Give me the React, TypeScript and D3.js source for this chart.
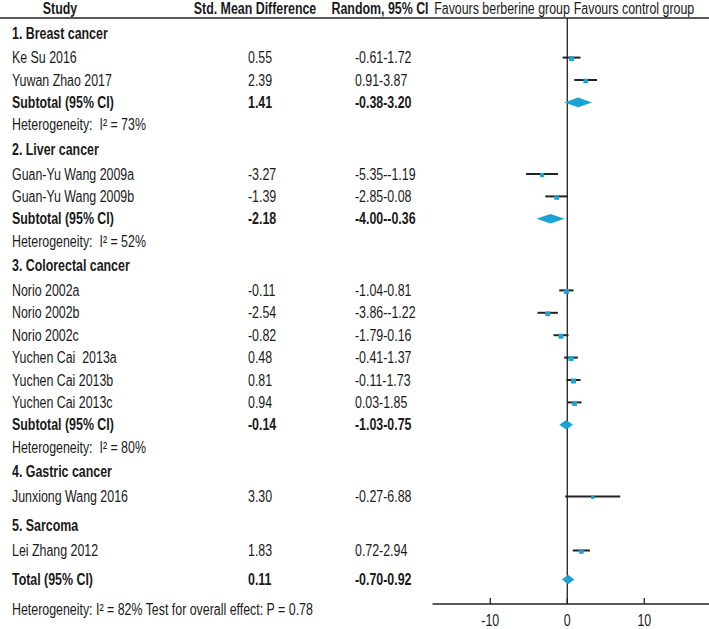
import React from "react";
import * as d3 from "d3";

// ---------- data ----------
const groupNames = ["1. Breast cancer", "2. Liver cancer", "3. Colorectal cancer", "4. Gastric cancer", "5. Sarcoma"];
const studyNames = [
  "Ke Su 2016", "Yuwan Zhao 2017",
  "Guan-Yu Wang 2009a", "Guan-Yu Wang 2009b",
  "Norio 2002a", "Norio 2002b", "Norio 2002c", "Yuchen Cai  2013a", "Yuchen Cai 2013b", "Yuchen Cai 2013c",
  "Junxiong Wang 2016",
  "Lei Zhang 2012",
];
const studyGroup = [0, 0, 1, 1, 2, 2, 2, 2, 2, 2, 3, 4];
const studySMD = [0.55, 2.39, -3.27, -1.39, -0.11, -2.54, -0.82, 0.48, 0.81, 0.94, 3.30, 1.83];
const studyLow = [-0.61, 0.91, -5.35, -2.85, -1.04, -3.86, -1.79, -0.41, -0.11, 0.03, -0.27, 0.72];
const studyHigh = [1.72, 3.87, -1.19, 0.08, 0.81, -1.22, 0.16, 1.37, 1.73, 1.85, 6.88, 2.94];
const studyWeight = [8, 7, 6, 7.5, 8.5, 8, 8.5, 8.5, 8.5, 8.5, 3.5, 7];

const subtotalGroups = [0, 1, 2];
const subtotalSMD = [1.41, -2.18, -0.14];
const subtotalLow = [-0.38, -4.0, -1.03];
const subtotalHigh = [3.2, -0.36, 0.75];
const subtotalI2 = [73, 52, 80];

const totalSMD = 0.11;
const totalLow = -0.7;
const totalHigh = 0.92;
const totalI2 = 82;
const totalP = 0.78;

const headers = ["Study", "Std. Mean Difference", "Random, 95% CI", "Favours berberine group", "Favours control group"];
const axisTicks = [-10, 0, 10];
const axisDomain = [-17.5, 18.4];

// ---------- layout ----------
const W = 709;
const H = 629;
const FONT = "'Liberation Sans', Arial, sans-serif";
const NARROW = 0.775;
const TEXT = "#1a1a1a";
const LINE = "#222";
const BLUE = "#1ba3d4";
const colStudy = 12;
const colSMD = 248;
const colCI = 355;
const headerY = 8;
const headerLineY = 18;
const axisY = 604;

type Row = {
  kind: "group" | "study" | "subtotal" | "het" | "total" | "totalhet";
  label: string;
  smd?: number;
  lo?: number;
  hi?: number;
  w?: number;
};

const fmt = (v: number) => v.toFixed(2);

function buildRows(): Row[] {
  const rows: Row[] = [];
  groupNames.forEach((g, gi) => {
    rows.push({ kind: "group", label: g });
    studyNames.forEach((s, si) => {
      if (studyGroup[si] === gi)
        rows.push({ kind: "study", label: s, smd: studySMD[si], lo: studyLow[si], hi: studyHigh[si], w: studyWeight[si] });
    });
    const k = subtotalGroups.indexOf(gi);
    if (k >= 0) {
      rows.push({ kind: "subtotal", label: "Subtotal (95% CI)", smd: subtotalSMD[k], lo: subtotalLow[k], hi: subtotalHigh[k] });
      rows.push({ kind: "het", label: `Heterogeneity:  I\u00B2 = ${subtotalI2[k]}%` });
    }
  });
  rows.push({ kind: "total", label: "Total (95% CI)", smd: totalSMD, lo: totalLow, hi: totalHigh });
  rows.push({
    kind: "totalhet",
    label: `Heterogeneity: I\u00B2 = ${totalI2}% Test for overall effect: P = ${totalP.toFixed(2)}`,
  });
  return rows;
}

function layoutRows(rows: Row[]): number[] {
  const ys: number[] = [];
  let y = 33;
  rows.forEach((r, i) => {
    if (i > 0) {
      const prev = rows[i - 1];
      let step = 22.4;
      if (r.kind === "group" || prev.kind === "group") step = 24.6;
      if (r.kind === "group" && prev.kind === "study") step = 29.5;
      if (r.kind === "total") step = 29;
      if (r.kind === "totalhet") step = 30;
      y += step;
    }
    ys.push(y);
  });
  return ys;
}

function T(props: {
  x: number;
  y: number;
  anchor?: "start" | "middle" | "end";
  bold?: boolean;
  children: React.ReactNode;
}) {
  return (
    <text
      transform={`translate(${props.x},${props.y}) scale(${NARROW},1)`}
      textAnchor={props.anchor || "start"}
      dominantBaseline="central"
      fontWeight={props.bold ? "bold" : "normal"}
      fill={TEXT}
      style={{ whiteSpace: "pre" }}
    >
      {props.children}
    </text>
  );
}

export default function App() {
  const rows = buildRows();
  const ys = layoutRows(rows);
  const x = d3.scaleLinear().domain(axisDomain).range([432.5, 709]);
  const sz = d3.scaleSqrt().domain([0, 10]).range([0, 5.4]);
  const x0 = x(0);

  const isBold = (k: Row["kind"]) => k === "group" || k === "subtotal" || k === "total";

  return (
    <div style={{ position: "fixed", left: 0, top: 0, width: W, height: H, background: "#fff" }}>
      <svg width={W} height={H} style={{ display: "block" }} fontFamily={FONT} fontSize={16}>
        {/* header */}
        <T x={60} y={headerY} anchor="middle" bold>{headers[0]}</T>
        <T x={255} y={headerY} anchor="middle" bold>{headers[1]}</T>
        <T x={380} y={headerY} anchor="middle" bold>{headers[2]}</T>
        <T x={502} y={headerY} anchor="middle">{headers[3]}</T>
        <T x={634} y={headerY} anchor="middle">{headers[4]}</T>
        <line x1={0} x2={W} y1={headerLineY} y2={headerLineY} stroke={LINE} strokeWidth={1.6} />

        {/* zero line */}
        <line x1={x0} x2={x0} y1={headerLineY} y2={axisY} stroke={LINE} strokeWidth={1.3} />

        {/* rows */}
        {rows.map((r, i) => {
          const y = ys[i];
          const bold = isBold(r.kind);
          return (
            <g key={i}>
              <T x={colStudy} y={y} bold={bold}>{r.label}</T>
              {r.smd !== undefined && (
                <>
                  <T x={colSMD} y={y} bold={bold}>{fmt(r.smd)}</T>
                  <T x={colCI} y={y} bold={bold}>{`${fmt(r.lo!)}-${fmt(r.hi!)}`}</T>
                </>
              )}
              {r.kind === "study" && (
                <>
                  <line x1={x(r.lo!)} x2={x(r.hi!)} y1={y} y2={y} stroke={LINE} strokeWidth={2} />
                  <rect
                    x={x(r.smd!) - sz(r.w!) / 2}
                    y={y + 1 - sz(r.w!) / 2}
                    width={sz(r.w!)}
                    height={sz(r.w!)}
                    fill={BLUE}
                  />
                </>
              )}
              {(r.kind === "subtotal" || r.kind === "total") && (
                <path
                  d={`M${x(r.lo!)},${y} L${x(r.smd!)},${y - 4.8} L${x(r.hi!)},${y} L${x(r.smd!)},${y + 4.8} Z`}
                  fill={BLUE}
                />
              )}
            </g>
          );
        })}

        {/* axis */}
        <line x1={x(axisDomain[0])} x2={x(axisDomain[1])} y1={axisY} y2={axisY} stroke={LINE} strokeWidth={1.3} />
        {axisTicks.map((t) => (
          <g key={t}>
            <line x1={x(t)} x2={x(t)} y1={axisY - 6} y2={axisY} stroke={LINE} strokeWidth={1.3} />
            <T x={x(t)} y={axisY + 16} anchor="middle">{t}</T>
          </g>
        ))}
      </svg>
    </div>
  );
}
